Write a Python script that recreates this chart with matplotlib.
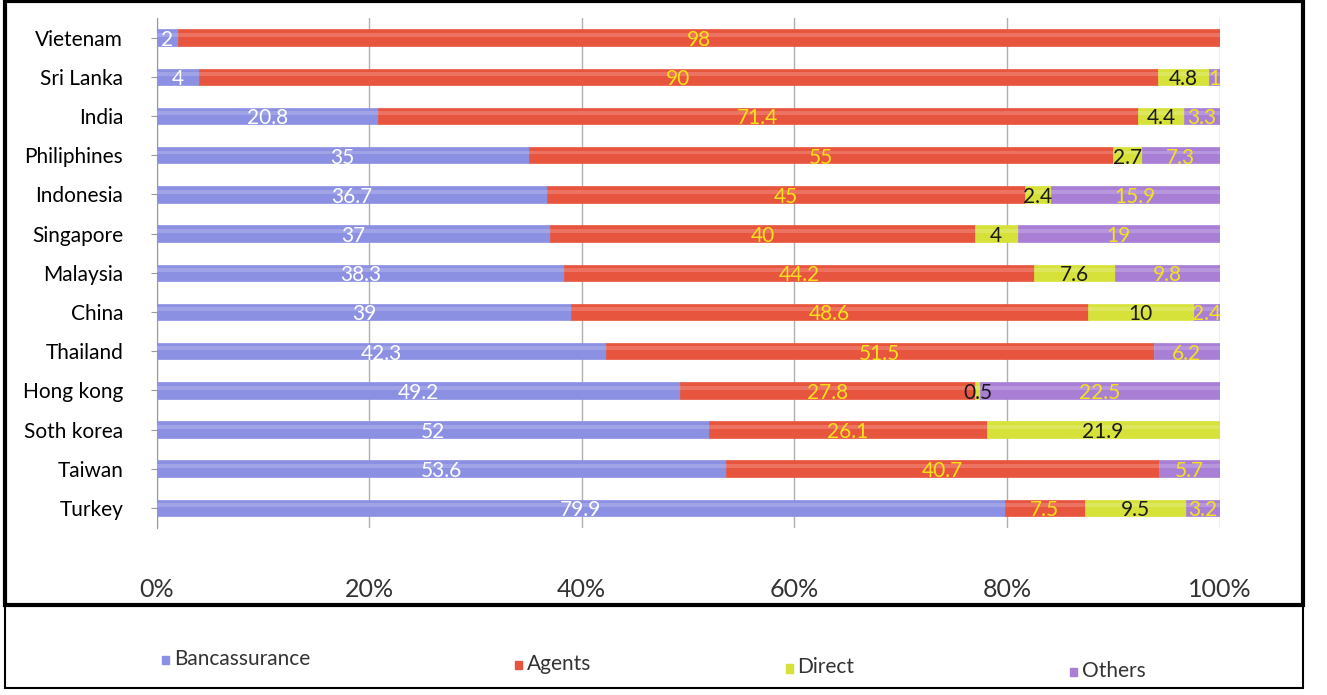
import matplotlib
matplotlib.use("Agg")
import matplotlib.pyplot as plt
from matplotlib.patches import Rectangle
import numpy as np

plt.rcParams['font.family'] = ['Lato', 'DejaVu Sans']

countries = ["Vietenam", "Sri Lanka", "India", "Philiphines", "Indonesia", "Singapore",
             "Malaysia", "China", "Thailand", "Hong kong", "Soth korea", "Taiwan", "Turkey"]
bancassurance = [2, 4, 20.8, 35, 36.7, 37, 38.3, 39, 42.3, 49.2, 52, 53.6, 79.9]
agents = [98, 90, 71.4, 55, 45, 40, 44.2, 48.6, 51.5, 27.8, 26.1, 40.7, 7.5]
direct = [0, 4.8, 4.4, 2.7, 2.4, 4, 7.6, 10, 0, 0.5, 21.9, 0, 9.5]
others = [0, 1, 3.3, 7.3, 15.9, 19, 9.8, 2.4, 6.2, 22.5, 0, 5.7, 3.2]
series_names = ["Bancassurance", "Agents", "Direct", "Others"]
xticks = [0, 20, 40, 60, 80, 100]
xtick_labels = ["0%", "20%", "40%", "60%", "80%", "100%"]

colors = ["#8c90e2", "#e8553f", "#d6e23a", "#a97fd6"]
label_colors = ["white", "#f5e21c", "#1a1a1a", "#f5e21c"]

fig = plt.figure(figsize=(13.27, 6.95), dpi=100)
ax = fig.add_axes([0.118, 0.241, 0.801, 0.733])

data = np.array([bancassurance, agents, direct, others], dtype=float)
totals = data.sum(axis=0)
pct = data / totals * 100
y = np.arange(len(countries))
left = np.zeros(len(countries))
for i in range(4):
    ax.barh(y, pct[i], left=left, height=0.42, color=colors[i],
            edgecolor=colors[i], linewidth=0.5, zorder=3)
    # subtle cylinder highlight
    ax.barh(y - 0.07, pct[i], left=left, height=0.1, color="white", alpha=0.18,
            linewidth=0, zorder=4)
    for j in range(len(countries)):
        v = data[i][j]
        if v > 0:
            ax.text(left[j] + pct[i][j] / 2, y[j] + 0.06, f"{v:g}", ha="center", va="center",
                    color=label_colors[i], fontsize=15, zorder=5)
    left += pct[i]

ax.set_xlim(0, 100)
ax.set_ylim(len(countries) - 0.5, -0.5)
ax.set_yticks(y)
ax.set_yticklabels(countries, fontsize=15)
ax.set_xticks(xticks)
ax.set_xticklabels(xtick_labels, fontsize=18, color="#333333")
ax.tick_params(axis="x", length=0, pad=36)
ax.tick_params(axis="y", length=4, pad=20, color="#999999")
ax.xaxis.grid(True, color="#b0b0b0", linewidth=1.0, zorder=0)
for s in ["top", "right", "bottom"]:
    ax.spines[s].set_visible(False)
ax.spines["left"].set_color("#999999")

# outer frames
fig.patches.append(Rectangle((0.004, 0.13), 0.978, 0.868, transform=fig.transFigure,
                             fill=False, edgecolor="black", linewidth=3))
fig.patches.append(Rectangle((0.004, 0.01), 0.978, 0.12, transform=fig.transFigure,
                             fill=False, edgecolor="black", linewidth=1.5))

# legend
leg_x = [0.122, 0.388, 0.592, 0.806]
leg_y = [0.052, 0.045, 0.040, 0.035]
for i, name in enumerate(series_names):
    fig.patches.append(Rectangle((leg_x[i], leg_y[i] - 0.008), 0.0055, 0.0125,
                                 transform=fig.transFigure, color=colors[i]))
    fig.text(leg_x[i] + 0.009, leg_y[i], name, fontsize=15, color="#333333",
             va="center", ha="left")

fig.savefig("out.png", dpi=100)
